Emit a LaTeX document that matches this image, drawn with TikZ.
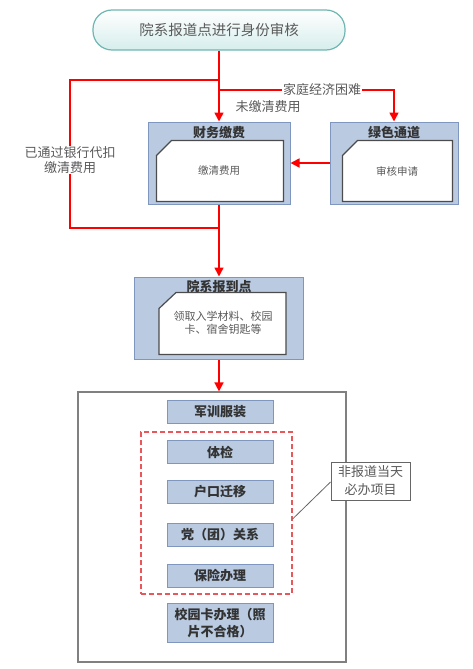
\documentclass[tikz,border=0pt]{standalone}
\usepackage{fontspec}
\setmainfont{Noto Sans CJK SC}
\usetikzlibrary{arrows.meta, positioning, calc}
\definecolor{boxfill}{HTML}{B9CAE1}
\definecolor{boxline}{HTML}{7F96BE}
\definecolor{flowred}{HTML}{FF0000}
\definecolor{pillline}{HTML}{6DB6B2}
\definecolor{pillfill}{HTML}{D6EEEC}
\definecolor{dashred}{HTML}{E8585A}
\definecolor{textdark}{HTML}{333333}
\definecolor{textgray}{HTML}{5A5A5A}

\begin{document}
\begin{tikzpicture}[
    x=1pt, y=-1pt,
    pill/.style={draw=pillline, line width=1.2pt, rounded corners=19pt, top color=white, bottom color=pillfill,
        minimum width=252pt, minimum height=40pt, font=\fontsize{14.5}{16}\selectfont, text=textgray},
    group box/.style={draw=boxline, line width=1pt, fill=boxfill, minimum height=82pt},
    card/.style={draw=black!70, line width=1.2pt, fill=white},
    box_title/.style={font=\bfseries\fontsize{13}{15}\selectfont, text=textdark},
    card_text/.style={font=\fontsize{10.5}{12}\selectfont, text=textgray, align=center},
    item box/.style={draw=boxline, line width=1pt, fill=boxfill, minimum width=106pt, minimum height=23pt,
        inner sep=1pt, font=\bfseries\fontsize{13}{17}\selectfont, text=textdark, align=center},
    flow/.style={draw=flowred, line width=1.6pt},
    flow_arrow/.style={flow, -{Triangle[width=9pt, length=9pt]}},
    flow_label/.style={font=\fontsize{13}{14.5}\selectfont, text=textgray, align=center, inner sep=1pt}
]
    \useasboundingbox (0,0) rectangle (473,669);

    % Entry check
    \node[pill] (check) at (219,30) {院系报道点进行身份审核};

    % Finance payment
    \node[group box, minimum width=142pt] (finance) at (219,163) {};
    \node[box_title] (finance_title) at (219,133) {财务缴费};
    \draw[card] ([xshift=9pt, yshift=-34pt]finance.north west) -- ([xshift=24pt, yshift=-19pt]finance.north west)
        -- ([xshift=-7pt, yshift=-19pt]finance.north east) -- ([xshift=-7pt, yshift=3pt]finance.south east)
        -- ([xshift=9pt, yshift=3pt]finance.south west) -- cycle;
    \node[card_text] (finance_text) at (219,171) {缴清费用};

    % Green channel
    \node[group box, minimum width=128pt] (green) at (394,163) {};
    \node[box_title] (green_title) at (394,133) {绿色通道};
    \draw[card] ([xshift=13pt, yshift=-34pt]green.north west) -- ([xshift=28pt, yshift=-19pt]green.north west)
        -- ([xshift=-6pt, yshift=-19pt]green.north east) -- ([xshift=-6pt, yshift=3pt]green.south east)
        -- ([xshift=13pt, yshift=3pt]green.south west) -- cycle;
    \node[card_text] (green_text) at (397,171) {审核申请};

    % Department check-in
    \node[group box, minimum width=169pt] (report) at (219,318) {};
    \node[box_title] (report_title) at (219,287) {院系报到点};
    \draw[card] ([xshift=25pt, yshift=-32pt]report.north west) -- ([xshift=42pt, yshift=-16pt]report.north west)
        -- ([xshift=-18pt, yshift=-16pt]report.north east) -- ([xshift=-18pt, yshift=5pt]report.south east)
        -- ([xshift=25pt, yshift=5pt]report.south west) -- cycle;
    \node[card_text, font=\fontsize{11}{12.5}\selectfont] (report_text) at (223,323) {领取入学材料、校园\\卡、宿舍钥匙等};

    % Flow from the check
    \coordinate (split_left) at (219,80);
    \coordinate (split_right) at (219,90);
    \coordinate (join) at (219,228);
    \draw[flow_arrow] (check.south) -- (finance.north);
    \draw[flow] (split_left) -| (70,228) -- (join);
    \draw[flow_arrow] (split_right) -| (green.north);
    \draw[flow_arrow] (green.west) -- (finance.east);
    \draw[flow_arrow] (finance.south) -- (report.north);
    \node[flow_label, fill=white] (hard_label) at (322,90) {家庭经济困难};
    \node[flow_label] (unpaid_label) at (268,107) {未缴清费用};
    \node[flow_label, fill=white] (bank_label) at (70,160) {已通过银行代扣\\缴清费用};

    % Outer frame with items
    \node[draw=black!50, line width=1.2pt, minimum width=268pt, minimum height=270pt] (frame) at (212,527) {};
    \draw[flow_arrow] (report.south) -- (report.south |- frame.north);

    \node[item box] (uniform) at (220,412) {军训服装};
    \node[item box] (medical) at (220,452) {体检};
    \node[item box] (hukou) at (220,492) {户口迁移};
    \node[item box] (party) at (220,535) {党（团）关系};
    \node[item box] (insure) at (220,576) {保险办理};
    \node[item box, minimum height=39pt] (campuscard) at (220,623) {校园卡办理（照\\片不合格）};

    % Dashed group and note
    \node[draw=dashred, line width=1.2pt, dash pattern=on 5pt off 3pt, minimum width=151pt, minimum height=162pt] (later) at (216.5,513) {};
    \node[draw=black!60, line width=1pt, fill=white, minimum width=79pt, minimum height=38pt,
        font=\fontsize{13}{18}\selectfont, text=textgray, align=center, inner sep=1pt] (note) at (370.5,481) {非报道当天\\必办项目};
    \draw[black!60, line width=0.8pt] ([yshift=-1pt]note.west) -- ([yshift=-6pt]later.east);
\end{tikzpicture}
\end{document}
